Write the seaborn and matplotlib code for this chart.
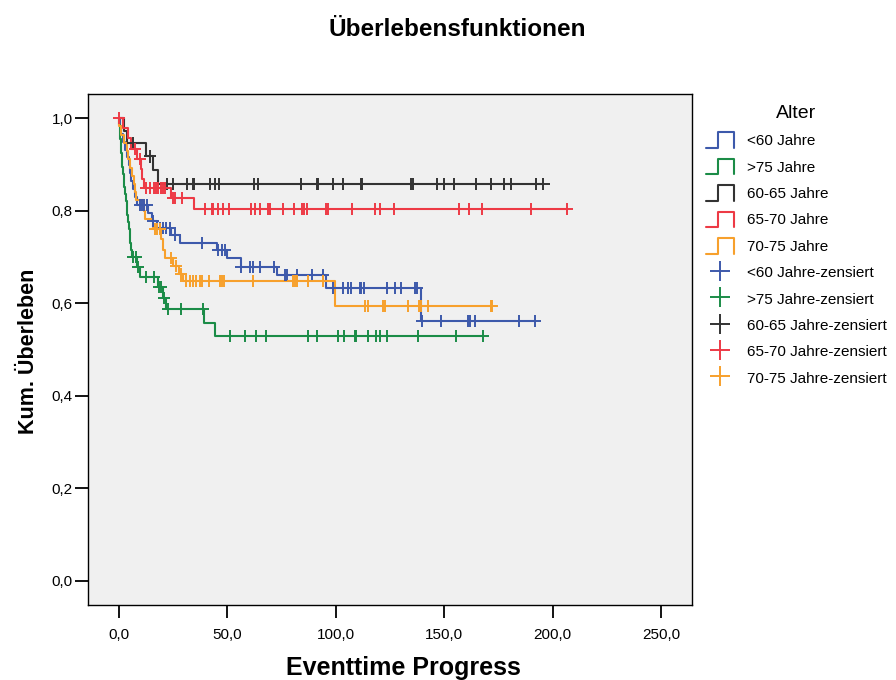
import numpy as np
import pandas as pd
import matplotlib
matplotlib.use("Agg")
import matplotlib.pyplot as plt
import seaborn as sns
from matplotlib.lines import Line2D
from matplotlib.legend_handler import HandlerBase

# ---------------- data ----------------
groups = ["<60 Jahre", ">75 Jahre", "60-65 Jahre", "65-70 Jahre", "70-75 Jahre"]
colors = ["#3D59AB", "#1B8C47", "#333333", "#ED3A45", "#F7A02C"]

lt60_event_t = [0.3, 1.0, 1.8, 2.8, 3.8, 4.5, 5.0, 5.7, 6.5, 7.3, 8.4, 13.4, 15.0, 17.5,
                23.8, 28.0, 45.0, 49.6, 56.2, 73.0, 95.7, 139.3]
lt60_surv = [0.983, 0.966, 0.949, 0.932, 0.915, 0.898, 0.881, 0.864, 0.847, 0.830, 0.812,
             0.794, 0.777, 0.762, 0.748, 0.731, 0.715, 0.697, 0.679, 0.660, 0.632, 0.561]
lt60_cens = [9.6, 10.5, 11.5, 12.8, 15.7, 18.8, 20.5, 21.5, 23.3, 26.0, 38.4, 45.8, 47.3,
             48.8, 56.5, 60.4, 61.6, 65.0, 71.4, 76.5, 77.3, 81.9, 88.8, 94.1, 98.8, 103.4,
             105.4, 106.8, 111.1, 111.8, 113.0, 123.4, 127.2, 130.3, 136.4, 137.4, 139.6,
             148.5, 161.0, 161.8, 164.0, 184.5, 191.8]

gt75_event_t = [0.2, 0.4, 0.6, 0.9, 1.1, 1.3, 1.5, 1.8, 2.1, 2.4, 2.8, 3.1, 3.5, 3.9, 4.3,
                4.7, 5.0, 5.3, 5.7, 6.0, 8.5, 9.5, 17.8, 20.3, 21.5, 39.2, 44.5]
gt75_surv = [0.985, 0.970, 0.955, 0.940, 0.925, 0.910, 0.895, 0.880, 0.865, 0.850, 0.835,
             0.820, 0.805, 0.790, 0.775, 0.760, 0.745, 0.730, 0.715, 0.700, 0.679, 0.657,
             0.634, 0.611, 0.587, 0.557, 0.529]
gt75_cens = [6.5, 8.0, 8.8, 12.6, 16.1, 18.3, 19.5, 20.8, 22.6, 28.7, 38.7, 51.2, 58.1,
             63.1, 67.7, 87.2, 91.4, 101.1, 103.8, 108.8, 109.5, 114.9, 118.7, 120.6, 123.4,
             137.9, 155.6, 168.0]

a6065_event_t = [2.2, 3.8, 12.6, 15.7, 18.0]
a6065_surv = [0.973, 0.947, 0.917, 0.888, 0.857]
a6065_cens = [6.5, 14.1, 22.0, 24.7, 31.3, 34.2, 34.7, 42.2, 44.2, 46.3, 62.2, 63.9, 83.9,
              91.4, 92.0, 98.5, 103.1, 111.7, 112.2, 134.9, 135.6, 146.9, 149.9, 154.7,
              164.8, 171.8, 177.7, 180.6, 192.3, 195.8]

a6570_event_t = [2.0, 4.0, 5.5, 8.5, 10.0, 10.8, 11.6, 24.1, 34.4]
a6570_surv = [0.978, 0.956, 0.934, 0.911, 0.889, 0.869, 0.849, 0.827, 0.803]
a6570_cens = [0.0, 7.2, 9.5, 12.6, 14.1, 16.0, 17.2, 18.0, 19.2, 20.3, 21.0, 25.0, 25.7,
              29.2, 39.6, 42.7, 43.5, 45.8, 48.1, 50.6, 61.1, 62.7, 65.0, 68.8, 69.6, 75.7,
              80.8, 84.2, 85.3, 86.8, 95.7, 96.4, 107.5, 118.3, 120.3, 126.7, 156.8, 161.4,
              167.6, 190.2, 206.6]

a7075_event_t = [0.2, 1.0, 2.5, 3.5, 4.3, 5.2, 6.0, 6.8, 7.5, 8.0, 11.5, 12.2, 15.5, 19.5,
                 20.3, 21.3, 25.0, 27.5, 29.5, 99.5]
a7075_surv = [0.982, 0.964, 0.947, 0.929, 0.911, 0.893, 0.875, 0.858, 0.840, 0.822, 0.800,
              0.782, 0.760, 0.738, 0.716, 0.697, 0.680, 0.664, 0.647, 0.594]
a7075_cens = [16.5, 17.5, 18.8, 24.1, 26.3, 28.4, 31.0, 32.6, 34.1, 35.6, 37.3, 38.4, 41.5,
              46.5, 47.3, 48.6, 61.7, 80.3, 81.1, 81.9, 87.2, 94.0, 113.4, 114.9, 121.8,
              122.9, 133.3, 138.5, 139.3, 142.5, 171.4, 172.2]

x_ticks = [0, 50, 100, 150, 200, 250]
x_ticklabels = ["0,0", "50,0", "100,0", "150,0", "200,0", "250,0"]
y_ticks = [0.0, 0.2, 0.4, 0.6, 0.8, 1.0]
y_ticklabels = ["0,0", "0,2", "0,4", "0,6", "0,8", "1,0"]

series = [
    (groups[0], lt60_event_t, lt60_surv, lt60_cens),
    (groups[1], gt75_event_t, gt75_surv, gt75_cens),
    (groups[2], a6065_event_t, a6065_surv, a6065_cens),
    (groups[3], a6570_event_t, a6570_surv, a6570_cens),
    (groups[4], a7075_event_t, a7075_surv, a7075_cens),
]

# ---------------- tables ----------------
line_rows, cens_rows = [], []
for g, et, sv, ce in series:
    et_a = np.array([0.0] + et)
    sv_a = np.array([1.0] + sv)
    end_t = max(ce[-1], et[-1])
    for t, s in zip(list(et_a) + [end_t], list(sv_a) + [sv_a[-1]]):
        line_rows.append({"t": t, "s": s, "group": g})
    for c in ce:
        idx = np.searchsorted(et_a, c, side="right") - 1
        cens_rows.append({"t": c, "s": sv_a[idx], "group": g})
df_line = pd.DataFrame(line_rows)
df_cens = pd.DataFrame(cens_rows)

# ---------------- plot ----------------
sns.set_style("ticks")
plt.rcParams["font.family"] = ["Liberation Sans", "DejaVu Sans"]
plt.rcParams["text.color"] = "black"

fig = plt.figure(figsize=(8.96, 6.8), dpi=100)
ax = fig.add_axes([88 / 896, 1 - 605 / 680, (692 - 88) / 896, (605 - 94) / 680])
ax.set_facecolor("#F0F0F0")

palette = dict(zip(groups, colors))
sns.lineplot(data=df_line, x="t", y="s", hue="group", hue_order=groups, palette=palette,
             estimator=None, sort=False, drawstyle="steps-post", linewidth=1.5,
             legend=False, ax=ax)
sns.scatterplot(data=df_cens, x="t", y="s", hue="group", hue_order=groups, palette=palette,
                marker="+", s=75, linewidth=1.4, legend=False, ax=ax, zorder=3)

ax.set_xlim(-14.3, 264.3)
ax.set_ylim(-0.052, 1.052)
ax.set_xticks(x_ticks)
ax.set_xticklabels(x_ticklabels)
ax.set_yticks(y_ticks)
ax.set_yticklabels(y_ticklabels)
ax.tick_params(axis="both", direction="out", length=9.5, width=1.3, labelsize=11,
               color="black", labelcolor="black", top=False, right=False)
ax.tick_params(axis="x", pad=7)
ax.tick_params(axis="y", pad=1.5)
for sp in ax.spines.values():
    sp.set_visible(True)
    sp.set_color("black")
    sp.set_linewidth(1.0)
ax.set_xlabel("")
ax.set_ylabel("")

fig.text(457 / 896, 1 - 30 / 680, "Überlebensfunktionen", ha="center", va="center",
         fontsize=17.5, fontweight="bold", color="black")
fig.text(403 / 896, 1 - 668 / 680, "Eventtime Progress", ha="center", va="center",
         fontsize=18, fontweight="bold", color="black")
fig.text(29 / 896, 1 - 351 / 680, "Kum. Überleben", ha="center", va="center",
         rotation=90, fontsize=15.5, fontweight="bold", color="black")


class StepHandler(HandlerBase):
    def create_artists(self, legend, orig_handle, xdescent, ydescent, width, height,
                       fontsize, trans):
        x0, y0 = -xdescent, -ydescent
        xs = [x0, x0 + 0.42 * width, x0 + 0.42 * width, x0 + width, x0 + width]
        ys = [y0, y0, y0 + height, y0 + height, y0]
        ln = Line2D(xs, ys, color=orig_handle.get_color(), linewidth=1.5, transform=trans)
        return [ln]


step_handles = [Line2D([], [], color=c) for c in colors]
cens_handles = [Line2D([], [], color=c, marker="+", linestyle="None", markersize=14,
                       markeredgewidth=1.4) for c in colors]
handles = step_handles + cens_handles
labels = groups + [g + "-zensiert" for g in groups]
hmap = {h: StepHandler() for h in step_handles}
leg = fig.legend(handles, labels, title="Alter", loc="upper left",
                 bbox_to_anchor=(706 / 896, 1 - 105 / 680), frameon=False, fontsize=11,
                 title_fontsize=14, handlelength=1.83, handleheight=1.2,
                 handletextpad=0.85, labelspacing=0.68, borderpad=0, borderaxespad=0,
                 numpoints=1, handler_map=hmap)
leg.get_title().set_color("black")
for t in leg.get_texts():
    t.set_color("black")

fig.savefig("out.png", dpi=100, facecolor="white")
